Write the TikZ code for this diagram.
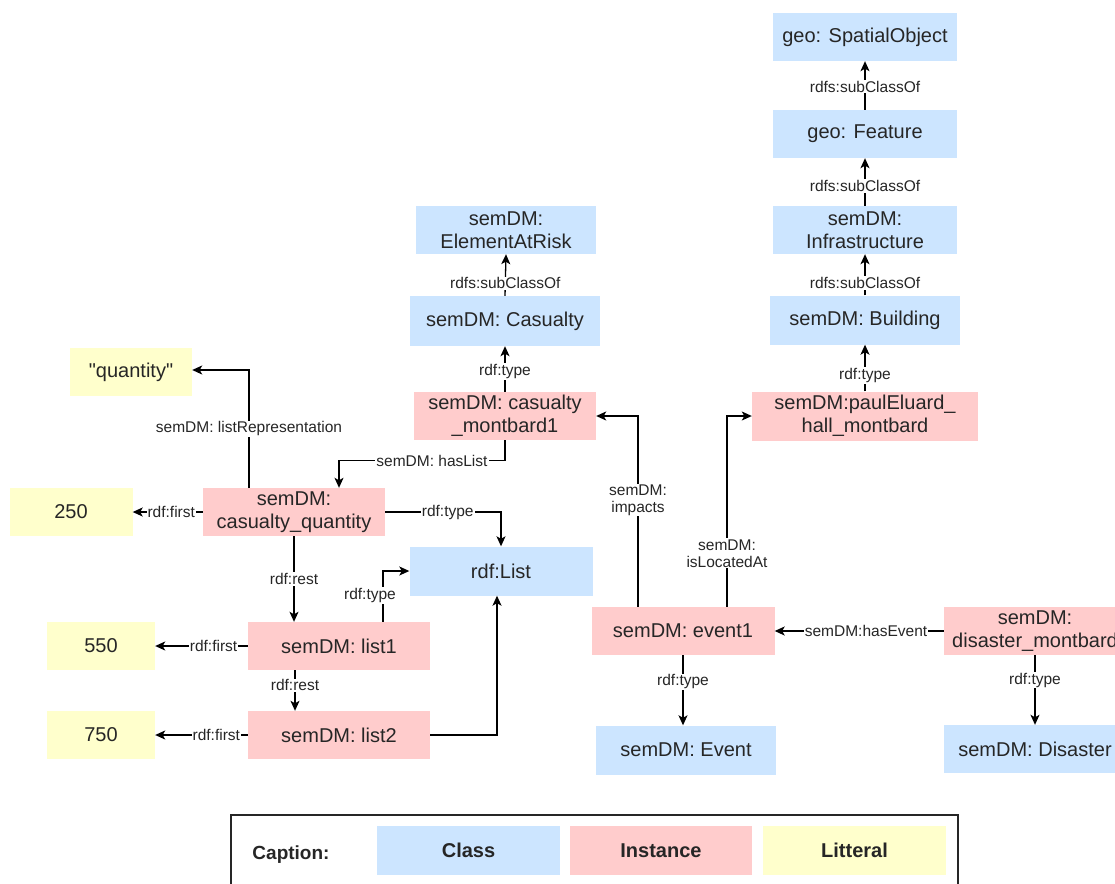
\documentclass[tikz,border=0pt]{standalone}
\usepackage{fontspec}
\setmainfont{Liberation Sans}
\newfontfamily\qfont{Liberation Sans}[Ligatures=TeXOff]
\usetikzlibrary{arrows.meta}
\definecolor{clsblue}{HTML}{CCE5FF}
\definecolor{instpink}{HTML}{FFCCCC}
\definecolor{lityellow}{HTML}{FFFFCC}
\tikzset{
  box/.style={minimum height=48pt, minimum width=182pt, inner sep=2pt, align=center,
    font=\fontsize{20}{23}\selectfont, text=black!85},
  cls/.style={box, fill=clsblue},
  inst/.style={box, fill=instpink},
  lit/.style={box, fill=lityellow},
  arr/.style={draw=black, line width=1.3pt, -{Stealth[length=10pt,width=9pt,inset=2.5pt]}},
  lbl/.style={fill=white, inner sep=1pt, align=center, font=\fontsize{15.5}{17}\selectfont, text=black!85},
  legend/.style={box, font=\bfseries\fontsize{20}{23}\selectfont, minimum width=183pt, minimum height=49pt}
}
\begin{document}
\begin{tikzpicture}[x=1pt,y=-1pt]
\useasboundingbox (0,0) rectangle (1115,883);
\clip (0,0) rectangle (1115,883);
% classes right column
\node[cls, minimum width=184pt] (spatial) at (865,37) {geo: SpatialObject};
\node[cls, minimum width=184pt] (feature) at (865,134) {geo: Feature};
\node[cls, minimum width=184pt] (infra) at (865,230) {semDM:\\Infrastructure};
\node[cls, minimum width=190pt, minimum height=49pt] (building) at (865,320) {semDM: Building};
\node[inst, minimum width=226pt, minimum height=49pt] (paul) at (865,416) {semDM:paulEluard\_\\hall\_montbard};
% middle column
\node[cls, minimum width=180pt] (elem) at (506,230) {semDM:\\ElementAtRisk};
\node[cls, minimum width=190pt, minimum height=50pt] (casualty) at (505,321) {semDM: Casualty};
\node[inst] (cmont) at (505,416) {semDM: casualty\\\_montbard1};
% left side
\node[lit, minimum width=122pt] (quantity) at (131,372) {\qfont "quantity"};
\node[lit, minimum width=123pt] (v250) at (71,512) {250};
\node[inst] (cq) at (294,512) {semDM:\\casualty\_quantity};
\node[cls, minimum width=183pt, minimum height=49pt] (list) at (501,571) {rdf:List};
\node[inst] (list1) at (339,646) {semDM: list1};
\node[lit, minimum width=108pt] (v550) at (101,646) {550};
\node[inst] (list2) at (339,735) {semDM: list2};
\node[lit, minimum width=108pt] (v750) at (101,735) {750};
% event side
\node[inst, minimum width=183pt] (event1) at (683,631) {semDM: event1};
\node[inst] (disaster) at (1035,631) {semDM:\\disaster\_montbard};
\node[cls, minimum width=180pt, minimum height=49pt] (eventC) at (686,750) {semDM: Event};
\node[cls] (disasterC) at (1035,749) {semDM: Disaster};
% edges: subclass chain
\draw[arr] (feature.north) -- node[lbl, pos=0.48]{rdfs:subClassOf} (spatial.south);
\draw[arr] (infra.north) -- node[lbl, pos=0.42]{rdfs:subClassOf} (feature.south);
\draw[arr] (building.north) -- node[lbl, pos=0.3]{rdfs:subClassOf} (infra.south);
\draw[arr] (paul.north) -- node[lbl, pos=0.34]{rdf:type} (building.south);
\draw[arr] (casualty.north) -- node[lbl, pos=0.3]{rdfs:subClassOf} (elem.south);
\draw[arr] (cmont.north) -- node[lbl, pos=0.45]{rdf:type} (casualty.south);
% hasList
\draw[arr] (cmont.south) |- node[lbl, pos=0.72]{semDM: hasList} ([xshift=45pt,yshift=27pt]cq.north) -- ([xshift=45pt]cq.north);
% listRepresentation
\draw[arr] ([xshift=-45pt]cq.north) |- node[lbl, pos=0.25]{semDM: listRepresentation} ([yshift=2pt]quantity.east);
% rdf:first
\draw[arr] (cq.west) -- node[lbl, pos=0.45]{rdf:first} (v250.east);
\draw[arr] (list1.west) -- node[lbl, pos=0.37]{rdf:first} (v550.east);
\draw[arr] (list2.west) -- node[lbl, pos=0.34]{rdf:first} (v750.east);
% rdf:type to List
\draw[arr] (cq.east) -| node[lbl, pos=0.27]{rdf:type} (list.north);
\draw[arr] ([xshift=44pt]list1.north) |- node[lbl, pos=0.26, xshift=-13pt]{rdf:type} (list.west);
\draw[arr] (list2.east) -| ([xshift=-4pt]list.south);
% rdf:rest
\draw[arr] (cq.south) -- node[lbl, pos=0.5]{rdf:rest} (cq.south |- list1.north);
\draw[arr] ([xshift=-44pt]list1.south) -- node[lbl, pos=0.37]{rdf:rest} ([xshift=-44pt]list2.north);
% event edges
\draw[arr] ([xshift=-45pt]event1.north) |- node[lbl, pos=0.28]{semDM:\\impacts} (cmont.east);
\draw[arr] ([xshift=44pt]event1.north) |- node[lbl, pos=0.14]{semDM:\\isLocatedAt} (paul.west);
\draw[arr] (disaster.west) -- node[lbl, pos=0.46]{semDM:hasEvent} (event1.east);
\draw[arr] (event1.south) -- node[lbl, pos=0.38]{rdf:type} (event1.south |- eventC.north);
\draw[arr] (disaster.south) -- node[lbl, pos=0.36]{rdf:type} (disasterC.north);
% caption
\draw[line width=2pt, draw=black!85] (231,815) rectangle (958,905);
\node[font=\bfseries\fontsize{19}{22}\selectfont, text=black!85] (captxt) at (291,855) {Caption:};
\node[legend, fill=clsblue] (lgclass) at (468.5,850.5) {Class};
\node[legend, fill=instpink, minimum width=182pt] (lginst) at (661,850.5) {Instance};
\node[legend, fill=lityellow] (lglit) at (854.5,850.5) {Litteral};
\end{tikzpicture}
\end{document}
